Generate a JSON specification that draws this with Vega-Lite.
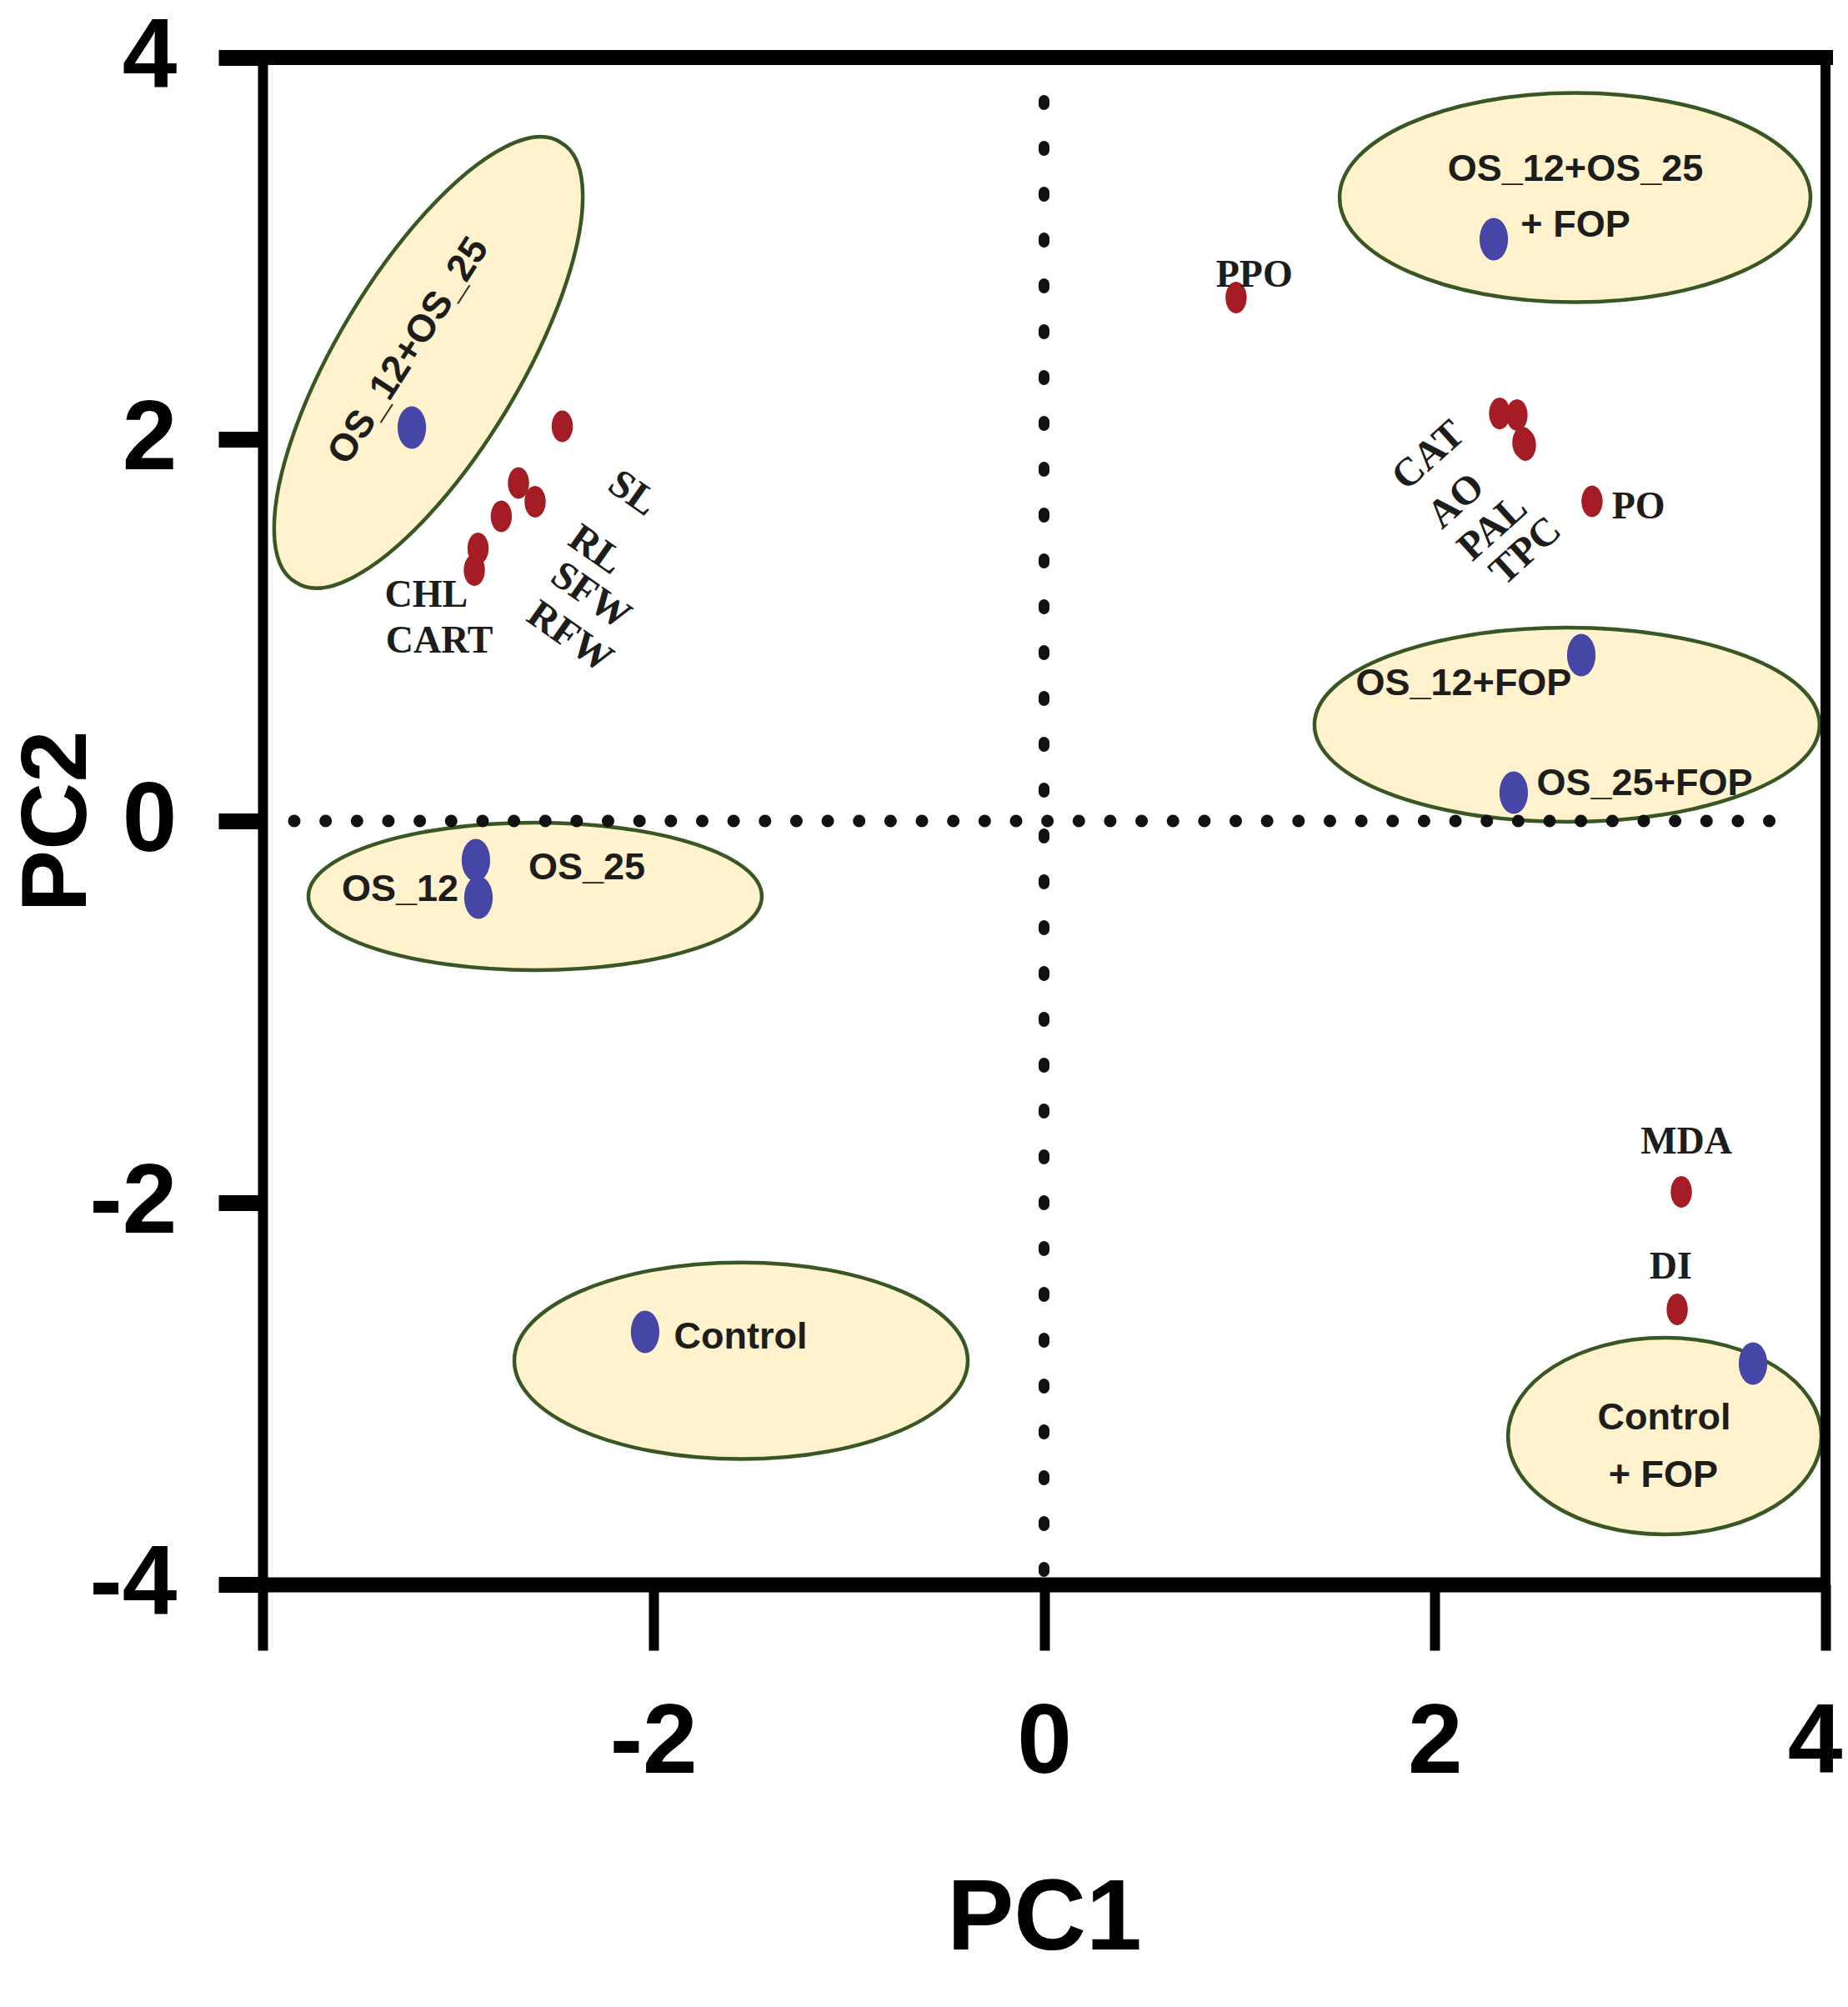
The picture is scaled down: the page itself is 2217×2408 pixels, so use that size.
{
  "$schema": "https://vega.github.io/schema/vega-lite/v6.json",
  "width": 1875,
  "height": 1832,
  "autosize": "none",
  "padding": {"left": 315, "top": 69, "right": 27, "bottom": 507},
  "background": "white",
  "config": {"view": {"stroke": null}, "axis": {"grid": false}},
  "datasets": {
    "clusters": [
      {"cluster": "OS_12+OS_25", "pc1": -3.151, "pc2": 2.402},
      {"cluster": "OS_12+OS_25+FOP", "pc1": 2.718, "pc2": 3.266},
      {"cluster": "OS_12+FOP & OS_25+FOP", "pc1": 2.677, "pc2": 0.504},
      {"cluster": "OS_12 & OS_25", "pc1": -2.605, "pc2": -0.395},
      {"cluster": "Control", "pc1": -1.551, "pc2": -2.828},
      {"cluster": "Control+FOP", "pc1": 3.177, "pc2": -3.223}
    ],
    "points": [
      {"name": "OS_12+OS_25", "kind": "treatment", "pc1": -3.236, "pc2": 2.061},
      {"name": "OS_12+OS_25+FOP", "kind": "treatment", "pc1": 2.302, "pc2": 3.048},
      {"name": "OS_12+FOP", "kind": "treatment", "pc1": 2.75, "pc2": 0.869},
      {"name": "OS_25+FOP", "kind": "treatment", "pc1": 2.404, "pc2": 0.148},
      {"name": "OS_25", "kind": "treatment", "pc1": -2.908, "pc2": -0.205},
      {"name": "OS_12", "kind": "treatment", "pc1": -2.895, "pc2": -0.402},
      {"name": "Control", "kind": "treatment", "pc1": -2.042, "pc2": -2.677},
      {"name": "Control+FOP", "kind": "treatment", "pc1": 3.629, "pc2": -2.843},
      {"name": "SL", "kind": "variable", "pc1": -2.466, "pc2": 2.068},
      {"name": "RL", "kind": "variable", "pc1": -2.69, "pc2": 1.771},
      {"name": "SFW", "kind": "variable", "pc1": -2.605, "pc2": 1.672},
      {"name": "RFW", "kind": "variable", "pc1": -2.778, "pc2": 1.596},
      {"name": "CHL", "kind": "variable", "pc1": -2.897, "pc2": 1.428},
      {"name": "CART", "kind": "variable", "pc1": -2.916, "pc2": 1.314},
      {"name": "PPO", "kind": "variable", "pc1": 0.983, "pc2": 2.742},
      {"name": "CAT", "kind": "variable", "pc1": 2.332, "pc2": 2.135},
      {"name": "AO", "kind": "variable", "pc1": 2.421, "pc2": 2.127},
      {"name": "PAL", "kind": "variable", "pc1": 2.464, "pc2": 1.969},
      {"name": "TPC", "kind": "variable", "pc1": 2.451, "pc2": 1.983},
      {"name": "PO", "kind": "variable", "pc1": 2.805, "pc2": 1.675},
      {"name": "MDA", "kind": "variable", "pc1": 3.262, "pc2": -1.943},
      {"name": "DI", "kind": "variable", "pc1": 3.241, "pc2": -2.559}
    ],
    "treatment_labels": [
      {"label": "OS_12+OS_25", "orientation": "along", "pc1": -3.253, "pc2": 2.463},
      {"label": "OS_12+OS_25", "orientation": "flat", "pc1": 2.72, "pc2": 3.415},
      {"label": "+ FOP", "orientation": "flat", "pc1": 2.72, "pc2": 3.122},
      {"label": "OS_12+FOP", "orientation": "flat", "pc1": 2.148, "pc2": 0.721},
      {"label": "OS_25+FOP", "orientation": "flat", "pc1": 3.074, "pc2": 0.197},
      {"label": "OS_12", "orientation": "flat", "pc1": -3.296, "pc2": -0.36},
      {"label": "OS_25", "orientation": "flat", "pc1": -2.34, "pc2": -0.245},
      {"label": "Control", "orientation": "flat", "pc1": -1.553, "pc2": -2.701},
      {"label": "Control", "orientation": "flat", "pc1": 3.174, "pc2": -3.127},
      {"label": "+ FOP", "orientation": "flat", "pc1": 3.17, "pc2": -3.428}
    ],
    "variable_labels": [
      {"label": "PPO", "orientation": "flat", "pc1": 1.076, "pc2": 2.799},
      {"label": "PO", "orientation": "flat", "pc1": 3.043, "pc2": 1.585},
      {"label": "MDA", "orientation": "flat", "pc1": 3.288, "pc2": -1.742},
      {"label": "DI", "orientation": "flat", "pc1": 3.208, "pc2": -2.397},
      {"label": "CHL", "orientation": "flat", "pc1": -3.162, "pc2": 1.122},
      {"label": "CART", "orientation": "flat", "pc1": -3.095, "pc2": 0.882},
      {"label": "SL", "orientation": "down", "pc1": -2.106, "pc2": 1.716},
      {"label": "RL", "orientation": "down", "pc1": -2.295, "pc2": 1.419},
      {"label": "SFW", "orientation": "down", "pc1": -2.321, "pc2": 1.179},
      {"label": "RFW", "orientation": "down", "pc1": -2.428, "pc2": 0.963},
      {"label": "CAT", "orientation": "up", "pc1": 1.969, "pc2": 1.913},
      {"label": "AO", "orientation": "up", "pc1": 2.11, "pc2": 1.675},
      {"label": "PAL", "orientation": "up", "pc1": 2.298, "pc2": 1.535},
      {"label": "TPC", "orientation": "up", "pc1": 2.466, "pc2": 1.413}
    ]
  },
  "layer": [
    {
      "data": {"name": "clusters"},
      "mark": {"type": "point", "filled": true, "fill": "#FFF2CC", "stroke": "#385723", "strokeWidth": 4.5, "size": 490000, "opacity": 1, "fillOpacity": 1, "strokeOpacity": 1},
      "encoding": {
        "x": {
          "field": "pc1", "type": "quantitative",
          "scale": {"domain": [-4, 4], "nice": false, "zero": false},
          "axis": {
            "title": "PC1", "values": [-4, -2, 0, 2, 4],
            "labelExpr": "datum.value === -4 ? '' : '' + datum.value",
            "domainColor": "#000000", "domainWidth": 18,
            "tickColor": "#000000", "tickWidth": 12, "tickSize": 79,
            "labelFont": "Liberation Sans", "labelFontWeight": "bold", "labelFontSize": 118,
            "labelColor": "#000000", "labelPadding": 146, "labelBaseline": "alphabetic",
            "labelFlush": true, "labelFlushOffset": 20, "labelOverlap": false,
            "titleFont": "Liberation Sans", "titleFontWeight": "bold", "titleFontSize": 120,
            "titleColor": "#000000", "titleBaseline": "alphabetic", "titleY": 437
          }
        },
        "y": {
          "field": "pc2", "type": "quantitative",
          "scale": {"domain": [-4, 4], "nice": false, "zero": false},
          "axis": {
            "title": "PC2", "values": [-4, -2, 0, 2, 4],
            "labelExpr": "'' + datum.value",
            "domainColor": "#000000", "domainWidth": 12,
            "tickColor": "#000000", "tickWidth": 19, "tickSize": 53,
            "labelFont": "Liberation Sans", "labelFontWeight": "bold", "labelFontSize": 118,
            "labelColor": "#000000", "labelPadding": 50, "labelFlush": false, "labelOverlap": false,
            "titleFont": "Liberation Sans", "titleFontWeight": "bold", "titleFontSize": 112,
            "titleColor": "#000000", "titleAngle": -90, "titleBaseline": "alphabetic", "titleAlign": "center",
            "titleX": -213, "titleY": 916
          }
        },
        "shape": {
          "field": "cluster", "type": "nominal", "legend": null,
          "scale": {
            "domain": ["OS_12+OS_25", "OS_12+OS_25+FOP", "OS_12+FOP & OS_25+FOP", "OS_12 & OS_25", "Control", "Control+FOP"],
            "range": [
              "M0.4532,-0.7542A0.88,0.3086,-59,1,1,-0.4532,0.7542A0.88,0.3086,-59,1,1,0.4532,-0.7542Z",
              "M-0.8071,0A0.8071,0.3586,0,1,1,0.8071,0A0.8071,0.3586,0,1,1,-0.8071,0Z",
              "M-0.8657,0A0.8657,0.3329,0,1,1,0.8657,0A0.8657,0.3329,0,1,1,-0.8657,0Z",
              "M-0.7771,0A0.7771,0.2529,0,1,1,0.7771,0A0.7771,0.2529,0,1,1,-0.7771,0Z",
              "M-0.7771,0A0.7771,0.3371,0,1,1,0.7771,0A0.7771,0.3371,0,1,1,-0.7771,0Z",
              "M-0.5371,0A0.5371,0.3371,0,1,1,0.5371,0A0.5371,0.3371,0,1,1,-0.5371,0Z"
            ]
          }
        }
      }
    },
    {
      "data": {"values": [{}]},
      "mark": {"type": "rule", "color": "#111111", "strokeWidth": 15, "strokeDash": [0.1, 37.55], "strokeCap": "round"},
      "encoding": {
        "x": {"datum": -3.838, "type": "quantitative"},
        "x2": {"datum": 3.852},
        "y": {"datum": 0, "type": "quantitative"}
      }
    },
    {
      "data": {"values": [{}]},
      "mark": {"type": "rule", "color": "#111111", "strokeWidth": 13, "strokeDash": [5, 50], "strokeCap": "round"},
      "encoding": {
        "x": {"datum": 0, "type": "quantitative"},
        "y": {"datum": 3.775, "type": "quantitative"},
        "y2": {"datum": -3.932}
      }
    },
    {
      "data": {"values": [{}]},
      "mark": {"type": "rule", "color": "#000000", "strokeWidth": 18, "strokeCap": "square"},
      "encoding": {
        "x": {"datum": -4, "type": "quantitative"},
        "x2": {"datum": 4},
        "y": {"datum": 4, "type": "quantitative"}
      }
    },
    {
      "data": {"values": [{}]},
      "mark": {"type": "rule", "color": "#000000", "strokeWidth": 12, "strokeCap": "square"},
      "encoding": {
        "x": {"datum": 4, "type": "quantitative"},
        "y": {"datum": 4, "type": "quantitative"},
        "y2": {"datum": -4}
      }
    },
    {
      "data": {"name": "points"},
      "mark": {"type": "point", "filled": true, "shape": "M0,-1A0.67,1,0,1,1,0,1A0.67,1,0,1,1,0,-1Z", "opacity": 1, "strokeWidth": 0},
      "encoding": {
        "x": {"field": "pc1", "type": "quantitative"},
        "y": {"field": "pc2", "type": "quantitative"},
        "color": {"field": "kind", "type": "nominal", "legend": null, "scale": {"domain": ["treatment", "variable"], "range": ["#4646a6", "#a51d24"]}},
        "size": {"field": "kind", "type": "ordinal", "legend": null, "scale": {"domain": ["treatment", "variable"], "range": [2601, 1444]}}
      }
    },
    {
      "data": {"name": "treatment_labels"},
      "transform": [{"filter": "datum.orientation === 'flat'"}],
      "mark": {"type": "text", "font": "Liberation Sans", "fontWeight": "bold", "fontSize": 45, "color": "#1d1d1b", "align": "center", "baseline": "middle"},
      "encoding": {
        "x": {"field": "pc1", "type": "quantitative"},
        "y": {"field": "pc2", "type": "quantitative"},
        "text": {"field": "label"}
      }
    },
    {
      "data": {"name": "treatment_labels"},
      "transform": [{"filter": "datum.orientation === 'along'"}],
      "mark": {"type": "text", "font": "Liberation Sans", "fontWeight": "bold", "fontSize": 46, "color": "#1d1d1b", "align": "center", "baseline": "middle", "angle": -57},
      "encoding": {
        "x": {"field": "pc1", "type": "quantitative"},
        "y": {"field": "pc2", "type": "quantitative"},
        "text": {"field": "label"}
      }
    },
    {
      "data": {"name": "variable_labels"},
      "transform": [{"filter": "datum.orientation === 'flat'"}],
      "mark": {"type": "text", "font": "Liberation Serif", "fontWeight": "bold", "fontSize": 46, "color": "#1d1d1b", "align": "center", "baseline": "alphabetic"},
      "encoding": {
        "x": {"field": "pc1", "type": "quantitative"},
        "y": {"field": "pc2", "type": "quantitative"},
        "text": {"field": "label"}
      }
    },
    {
      "data": {"name": "variable_labels"},
      "transform": [{"filter": "datum.orientation === 'down'"}],
      "mark": {"type": "text", "font": "Liberation Serif", "fontWeight": "bold", "fontSize": 48, "color": "#1d1d1b", "align": "center", "baseline": "middle", "angle": 35},
      "encoding": {
        "x": {"field": "pc1", "type": "quantitative"},
        "y": {"field": "pc2", "type": "quantitative"},
        "text": {"field": "label"}
      }
    },
    {
      "data": {"name": "variable_labels"},
      "transform": [{"filter": "datum.orientation === 'up'"}],
      "mark": {"type": "text", "font": "Liberation Serif", "fontWeight": "bold", "fontSize": 48, "color": "#1d1d1b", "align": "center", "baseline": "middle", "angle": -42},
      "encoding": {
        "x": {"field": "pc1", "type": "quantitative"},
        "y": {"field": "pc2", "type": "quantitative"},
        "text": {"field": "label"}
      }
    }
  ]
}
